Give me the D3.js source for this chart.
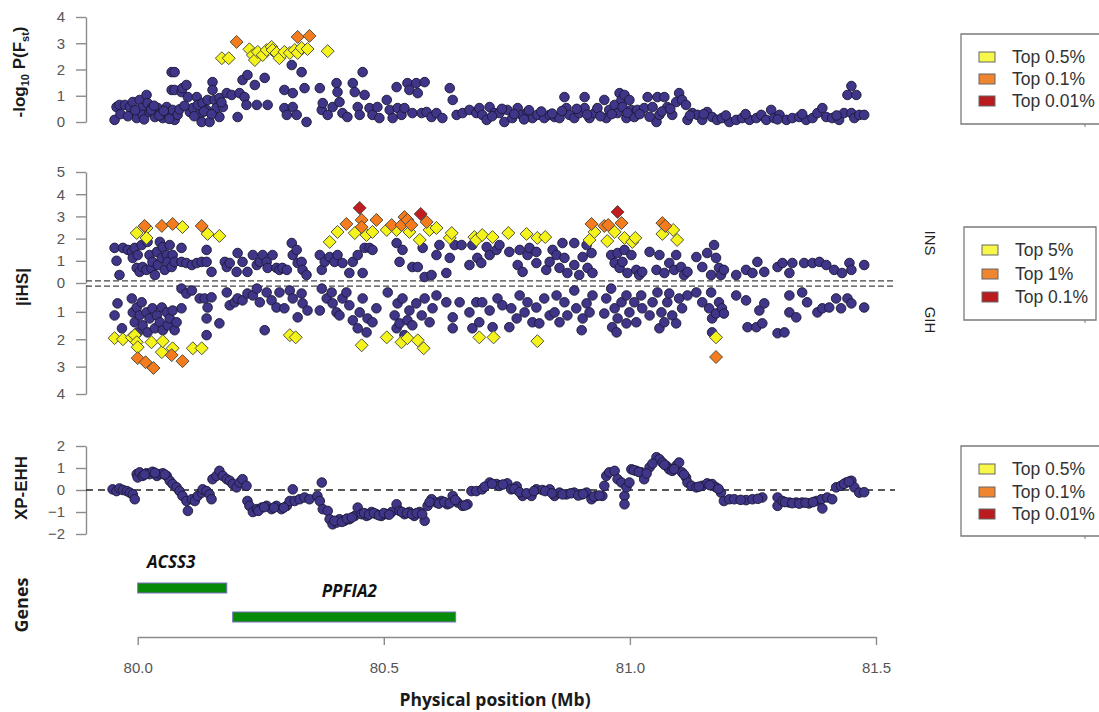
<!DOCTYPE html>
<html>
<head>
<meta charset="utf-8">
<script src="https://cdn.jsdelivr.net/npm/d3@7"></script>
<style>
  body { margin: 0; background: #fff; }
  svg { display: block; }
</style>
</head>
<body>
<script>
// ---------------- DATA ----------------
// Physical positions in Mb, values on each statistic's scale.
const xTicks = [80.0, 80.5, 81.0, 81.5];
const fstTicks = [0, 1, 2, 3, 4];
const ihsUpperTicks = [0, 1, 2, 3, 4, 5];
const ihsLowerTicks = [1, 2, 3, 4];
const xpTicks = [-2, -1, 0, 1, 2];

// -log10 P(Fst)
const fstCircles = [
[79.953,0.08],[79.957,0.57],[79.963,0.65],[79.974,0.65],[79.984,0.57],[79.990,0.76],[79.998,0.34],[79.998,0.15],[80.004,0.84],[80.008,0.53],[80.010,0.27],[80.018,1.03],[80.020,0.72],[80.024,0.38],[80.030,0.57],[80.035,0.19],[80.041,0.53],[80.049,0.34],[80.051,0.15],[80.059,0.57],[80.061,0.27],[80.069,1.90],[80.075,1.90],[80.069,1.22],[80.075,1.22],[80.071,0.46],[80.075,0.08],[80.081,0.27],[80.089,1.14],[80.091,1.29],[80.099,1.41],[80.102,0.95],[80.106,0.38],[80.112,0.53],[80.120,0.95],[80.122,0.65],[80.126,0.27],[80.130,0.0],[80.132,0.72],[80.140,0.46],[80.142,0.84],[80.146,0.0],[80.152,1.52],[80.152,1.22],[80.156,0.84],[80.160,0.53],[80.166,0.91],[80.166,0.19],[80.173,0.57],[80.181,1.10],[80.191,1.03],[80.203,0.19],[80.207,1.10],[80.213,1.60],[80.217,0.95],[80.223,1.79],[80.221,0.65],[80.238,1.41],[80.242,0.65],[80.258,1.68],[80.264,0.65],[80.298,1.22],[80.298,0.53],[80.303,0.27],[80.313,2.17],[80.315,1.10],[80.315,0.57],[80.323,0.27],[80.333,1.90],[80.339,1.29],[80.343,0.0],[80.370,1.29],[80.374,0.46],[80.376,0.72],[80.386,0.27],[80.396,0.57],[80.404,1.48],[80.406,1.14],[80.410,0.76],[80.416,0.34],[80.426,0.19],[80.437,1.48],[80.441,1.14],[80.447,0.57],[80.451,0.27],[80.457,1.90],[80.461,1.03],[80.471,0.53],[80.477,0.27],[80.487,0.57],[80.491,0.15],[80.506,0.84],[80.512,0.46],[80.518,0.15],[80.526,1.33],[80.528,0.53],[80.536,0.27],[80.542,0.53],[80.548,1.48],[80.552,1.22],[80.558,0.34],[80.566,1.48],[80.569,1.10],[80.577,0.34],[80.583,1.52],[80.587,0.38],[80.597,0.19],[80.607,0.34],[80.619,0.15],[80.634,1.29],[80.640,0.84],[80.648,0.27],[80.660,0.34],[80.674,0.46],[80.688,0.34],
[80.694,0.53],[80.700,0.27],[80.709,0.08],[80.715,0.57],[80.725,0.34],[80.735,0.34],[80.745,0.0],[80.751,0.46],[80.761,0.15],[80.772,0.53],[80.780,0.27],[80.792,0.38],[80.802,0.15],[80.812,0.27],[80.826,0.15],[80.837,0.27],[80.847,0.19],[80.857,0.15],[80.867,0.95],[80.871,0.53],[80.877,0.27],[80.887,0.15],[80.897,0.34],[80.908,0.95],[80.908,0.53],[80.918,0.15],[80.928,0.34],[80.934,0.53],[80.948,0.84],[80.952,0.15],[80.958,0.46],[80.969,0.65],[80.975,0.34],[80.979,1.10],[80.983,0.84],[80.985,0.57],[80.989,1.03],[80.993,0.15],[80.999,0.84],[81.003,0.46],[81.009,0.19],[81.015,0.46],[81.029,0.53],[81.036,0.95],[81.046,0.57],[81.054,0.0],[81.056,0.95],[81.060,0.27],[81.070,0.95],[81.076,0.57],[81.086,0.27],[81.094,0.76],[81.100,1.10],[81.106,0.84],[81.114,0.65],[81.117,0.08],[81.127,0.34],[81.137,0.27],[81.147,0.08],[81.157,0.38],[81.167,0.19],[81.177,0.08],[81.187,0.15],[81.202,0.0],[81.216,0.08],[81.228,0.15],[81.243,0.08],[81.257,0.15],[81.267,0.27],[81.277,0.08],[81.287,0.46],[81.293,0.15],[81.304,0.27],[81.318,0.08],[81.330,0.15],[81.344,0.19],[81.358,0.08],[81.371,0.15],[81.381,0.34],[81.391,0.53],[81.399,0.19],[81.411,0.15],[81.425,0.08],[81.435,0.34],[81.442,1.03],[81.450,1.37],[81.460,1.03],[81.450,0.34],[81.456,0.15],[81.466,0.27],[81.476,0.27],
[79.965,0.30],[79.980,0.22],[79.995,0.45],[80.013,0.10],[80.027,0.45],[80.033,0.62],[80.044,0.25],[80.053,0.42],[80.064,0.12],[80.085,0.48],[80.095,0.62],[80.115,0.22],[80.135,0.40],[80.150,0.30],[80.170,0.75],[80.720,0.22],[80.740,0.50],[80.765,0.30],[80.785,0.10],[80.795,0.45],[80.820,0.40],[80.842,0.32],[80.862,0.42],[80.892,0.50],[80.913,0.28],[80.940,0.22],[80.963,0.30],[80.995,0.35],[81.020,0.30],[81.040,0.20],[81.065,0.40],[81.082,0.50],[81.122,0.25],[81.150,0.30],[81.195,0.25],[81.235,0.30],[81.300,0.10],[81.350,0.30],[81.420,0.25]
];
const fstTop05 = [[80.171,2.43],[80.185,2.43],[80.227,2.77],[80.234,2.55],[80.238,2.36],[80.244,2.67],[80.254,2.55],[80.262,2.74],[80.272,2.86],[80.274,2.74],[80.282,2.63],[80.288,2.43],[80.298,2.67],[80.309,2.63],[80.319,2.74],[80.325,2.63],[80.333,2.82],[80.345,2.78],[80.386,2.70]];
const fstTop01 = [[80.201,3.05],[80.325,3.24],[80.349,3.28]];
const fstTop001 = [];

// |iHS| in INS (upper half)
const insCircles = [
[79.953,1.58],[79.957,1.0],[79.963,0.36],[79.970,1.58],[79.980,1.49],[79.988,1.40],[79.990,1.13],[79.994,1.58],[79.998,0.68],[80.000,1.26],[80.004,0.50],[80.008,1.71],[80.010,0.72],[80.018,0.59],[80.020,1.85],[80.024,1.26],[80.028,0.68],[80.030,0.95],[80.035,0.36],[80.039,1.40],[80.041,0.81],[80.045,1.85],[80.049,1.13],[80.051,1.62],[80.055,0.59],[80.059,1.26],[80.061,0.95],[80.065,1.71],[80.069,0.72],[80.071,1.26],[80.075,0.95],[80.089,1.58],[80.089,0.95],[80.099,0.90],[80.110,0.81],[80.120,0.90],[80.130,0.95],[80.140,1.49],[80.140,0.95],[80.150,0.50],[80.177,0.95],[80.181,0.72],[80.187,0.90],[80.201,0.50],[80.203,1.35],[80.213,0.95],[80.223,0.50],[80.234,1.26],[80.242,0.81],[80.248,0.95],[80.254,1.26],[80.262,0.95],[80.264,0.68],[80.274,1.26],[80.282,0.68],[80.288,0.59],[80.294,0.68],[80.303,0.59],[80.313,1.80],[80.315,1.26],[80.323,1.49],[80.325,0.90],[80.333,0.95],[80.335,0.59],[80.343,0.36],[80.370,1.26],[80.374,0.59],[80.380,0.95],[80.390,1.17],[80.400,0.95],[80.406,1.26],[80.416,0.90],[80.430,0.45],[80.437,0.95],[80.447,1.26],[80.457,0.45],[80.461,1.58],[80.471,1.58],[80.477,1.49],[80.526,1.80],[80.532,0.95],[80.538,1.49],[80.558,0.72],[80.569,0.72],[80.579,1.58],[80.583,0.27],[80.597,0.36],[80.607,1.26],[80.613,1.71],[80.627,0.45],[80.634,1.13],[80.644,1.71],[80.658,1.71],[80.674,0.81],[80.680,1.71],[80.690,1.13],
[80.698,0.90],[80.709,1.62],[80.715,1.26],[80.729,1.49],[80.735,1.71],[80.755,1.40],[80.772,0.81],[80.776,1.49],[80.782,0.50],[80.792,1.26],[80.796,1.58],[80.810,1.40],[80.810,0.90],[80.830,0.59],[80.837,0.95],[80.843,1.49],[80.851,1.26],[80.857,0.68],[80.863,1.80],[80.867,1.13],[80.873,0.45],[80.887,1.80],[80.887,0.81],[80.897,0.36],[80.904,1.17],[80.912,1.71],[80.914,0.68],[80.922,1.35],[80.924,0.45],[80.962,1.26],[80.969,0.90],[80.975,1.35],[80.979,0.68],[80.985,0.95],[80.989,1.49],[80.995,0.45],[81.003,1.26],[81.013,0.59],[81.019,0.36],[81.025,0.50],[81.040,1.40],[81.054,0.59],[81.060,1.26],[81.070,0.45],[81.080,0.90],[81.090,0.59],[81.094,1.26],[81.104,0.72],[81.110,0.36],[81.117,0.50],[81.135,1.17],[81.147,0.72],[81.157,1.35],[81.165,0.36],[81.171,1.71],[81.175,1.13],[81.181,0.68],[81.185,0.36],[81.191,0.59],[81.216,0.36],[81.236,0.59],[81.249,0.45],[81.259,0.95],[81.273,0.50],[81.300,0.72],[81.310,0.90],[81.324,0.45],[81.330,0.90],[81.354,0.90],[81.371,0.90],[81.385,0.95],[81.399,0.81],[81.415,0.59],[81.431,0.45],[81.446,0.90],[81.450,0.59],[81.476,0.81]
];
const insTop5 = [[79.998,2.25],[80.018,2.48],[80.018,2.03],[80.091,2.52],[80.142,2.21],[80.166,2.12],[80.390,1.85],[80.406,2.30],[80.441,2.25],[80.465,2.16],[80.477,2.30],[80.506,2.39],[80.526,2.39],[80.552,2.30],[80.573,1.94],[80.593,2.39],[80.607,2.48],[80.634,2.03],[80.638,2.25],[80.684,2.07],[80.688,1.94],[80.700,2.16],[80.721,2.07],[80.753,2.25],[80.790,2.21],[80.812,2.03],[80.828,2.07],[80.918,1.94],[80.928,2.30],[80.954,1.89],[80.969,2.30],[80.989,2.03],[81.005,1.85],[81.011,2.03],[81.066,2.21],[81.088,2.39],[81.096,1.94]];
const insTop1 = [[80.014,2.57],[80.049,2.57],[80.071,2.66],[80.130,2.57],[80.424,2.66],[80.455,2.84],[80.455,2.52],[80.485,2.84],[80.516,2.61],[80.536,2.61],[80.542,2.97],[80.548,2.84],[80.556,2.61],[80.587,2.75],[80.922,2.66],[80.948,2.57],[80.956,2.61],[80.983,2.70],[81.066,2.70],[81.072,2.57]];
const insTop01 = [[80.451,3.38],[80.575,3.11],[80.975,3.20]];

// |iHS| in GIH (lower half)
const gihCircles = [
[79.953,1.13],[79.959,0.69],[79.968,1.60],[79.988,0.51],[79.990,1.02],[79.994,1.38],[79.998,0.84],[80.000,1.75],[80.004,1.13],[80.008,0.65],[80.010,1.49],[80.018,1.02],[80.020,1.75],[80.024,1.24],[80.030,0.87],[80.035,1.60],[80.039,1.13],[80.045,1.38],[80.049,0.84],[80.051,1.67],[80.059,1.02],[80.061,1.49],[80.065,1.24],[80.071,0.95],[80.075,1.67],[80.079,1.38],[80.089,0.87],[80.089,0.15],[80.099,0.33],[80.110,0.22],[80.126,0.51],[80.136,0.51],[80.142,0.84],[80.140,1.24],[80.140,1.85],[80.150,0.47],[80.166,1.42],[80.181,0.29],[80.187,0.76],[80.197,0.65],[80.203,0.51],[80.213,0.58],[80.223,0.33],[80.234,0.40],[80.242,0.15],[80.248,0.65],[80.258,1.67],[80.262,0.29],[80.272,0.58],[80.282,0.84],[80.288,0.29],[80.298,0.87],[80.309,0.22],[80.315,0.51],[80.325,1.20],[80.333,0.33],[80.335,0.69],[80.345,0.95],[80.370,0.95],[80.374,0.15],[80.384,0.51],[80.394,0.29],[80.396,0.69],[80.404,1.02],[80.410,1.13],[80.416,0.51],[80.424,0.29],[80.430,0.76],[80.437,1.31],[80.447,1.60],[80.451,1.02],[80.457,0.51],[80.465,1.75],[80.467,1.24],[80.477,1.38],[80.485,0.87],[80.508,0.29],[80.522,1.13],[80.526,1.60],[80.528,0.69],[80.532,1.42],[80.538,0.51],[80.542,1.85],[80.548,1.31],[80.552,0.95],[80.558,1.49],[80.566,0.69],[80.577,1.13],[80.583,0.51],[80.593,1.38],[80.599,0.87],[80.607,0.40],[80.627,0.65],[80.640,1.20],[80.640,1.60],[80.654,0.65],[80.674,1.02],[80.680,1.60],[80.688,0.65],
[80.694,1.38],[80.700,0.65],[80.715,0.95],[80.721,1.56],[80.731,0.51],[80.741,0.76],[80.755,1.56],[80.759,0.87],[80.770,1.24],[80.776,0.40],[80.786,1.02],[80.792,0.65],[80.802,1.38],[80.810,0.84],[80.816,1.42],[80.826,0.51],[80.837,1.13],[80.847,1.02],[80.851,0.40],[80.857,1.38],[80.867,0.65],[80.873,1.13],[80.887,0.22],[80.891,0.87],[80.902,1.67],[80.904,1.24],[80.912,0.69],[80.918,1.02],[80.924,0.40],[80.948,1.06],[80.952,0.51],[80.962,0.15],[80.964,1.56],[80.969,0.87],[80.973,1.75],[80.975,1.24],[80.983,0.65],[80.993,1.42],[80.993,0.40],[80.999,1.02],[81.009,0.65],[81.013,1.38],[81.023,0.40],[81.025,0.87],[81.040,1.13],[81.046,0.65],[81.056,0.29],[81.060,1.60],[81.064,1.02],[81.070,1.38],[81.076,0.65],[81.080,0.33],[81.086,1.13],[81.094,1.42],[81.100,0.51],[81.106,0.87],[81.117,0.40],[81.135,0.29],[81.147,0.65],[81.161,0.87],[81.165,0.29],[81.167,1.24],[81.167,1.75],[81.175,1.06],[81.181,0.65],[81.187,0.87],[81.191,1.06],[81.216,0.40],[81.236,0.58],[81.239,1.56],[81.257,1.56],[81.263,0.95],[81.269,1.42],[81.273,0.69],[81.300,1.78],[81.314,1.75],[81.324,0.40],[81.324,1.02],[81.338,1.20],[81.350,0.29],[81.360,0.65],[81.381,1.02],[81.391,0.87],[81.405,0.84],[81.419,0.51],[81.429,0.87],[81.442,0.51],[81.450,0.69],[81.476,0.84]
];
const gihTop5 = [[79.953,1.96],[79.970,2.0],[79.988,1.93],[79.994,1.85],[79.998,2.11],[80.000,2.29],[80.028,2.11],[80.049,2.47],[80.051,2.07],[80.071,2.33],[80.112,2.33],[80.130,2.33],[80.309,1.85],[80.321,1.93],[80.455,2.22],[80.506,1.93],[80.536,2.11],[80.548,1.96],[80.569,2.04],[80.581,2.33],[80.694,1.93],[80.723,1.93],[80.812,2.07],[81.175,1.93]];
const gihTop1 = [[80.000,2.69],[80.016,2.84],[80.032,3.05],[80.069,2.58],[80.091,2.80],[81.175,2.65]];
const gihTop01 = [];

// XP-EHH
const xpehh = [
[79.949,0.03],[79.957,-0.05],[79.963,0.07],[79.970,0.0],[79.978,-0.05],[79.984,-0.12],[79.990,-0.2],[79.994,-0.42],[79.998,0.72],[80.000,0.57],[80.004,0.80],[80.010,0.64],[80.018,0.76],[80.024,0.72],[80.030,0.83],[80.039,0.64],[80.045,0.72],[80.051,0.76],[80.059,0.64],[80.065,0.42],[80.071,0.27],[80.079,0.12],[80.085,-0.05],[80.091,-0.27],[80.099,-0.5],[80.102,-0.95],[80.110,-0.42],[80.116,-0.5],[80.122,-0.27],[80.130,-0.12],[80.132,0.03],[80.140,-0.05],[80.146,-0.2],[80.150,-0.42],[80.152,0.49],[80.160,0.64],[80.166,0.87],[80.173,0.64],[80.181,0.49],[80.187,0.42],[80.193,0.27],[80.201,0.12],[80.207,0.34],[80.213,0.49],[80.221,0.19],[80.223,-0.5],[80.227,-0.72],[80.234,-1.0],[80.242,-0.87],[80.252,-0.8],[80.262,-0.72],[80.272,-0.87],[80.282,-0.72],[80.292,-0.87],[80.303,-0.72],[80.309,-0.5],[80.315,0.03],[80.319,-0.5],[80.329,-0.42],[80.339,-0.34],[80.349,-0.42],[80.365,-0.27],[80.370,-0.5],[80.374,0.34],[80.376,-0.87],[80.386,-0.95],[80.390,-1.33],[80.396,-1.56],[80.404,-1.48],[80.410,-1.33],[80.420,-1.4],[80.430,-1.33],[80.441,-1.18],[80.447,-0.8],[80.455,-1.1],[80.465,-1.18],[80.475,-1.0],[80.485,-1.1],[80.495,-1.18],[80.506,-1.1],[80.516,-1.0],[80.526,-0.65],[80.532,-0.95],[80.542,-1.1],[80.552,-1.0],[80.562,-1.18],[80.573,-1.0],[80.583,-1.4],[80.589,-0.72],[80.597,-0.42],[80.607,-0.57],[80.617,-0.5],[80.629,-0.65],[80.640,-0.27],[80.650,-0.57],[80.660,-0.72],[80.670,-0.65],[80.678,-0.05],[80.688,-0.05],
[80.700,0.03],[80.715,0.34],[80.729,0.27],[80.735,0.19],[80.751,0.3],[80.759,0.03],[80.770,0.16],[80.782,-0.27],[80.800,-0.27],[80.810,0.03],[80.822,0.0],[80.837,0.03],[80.847,-0.27],[80.857,-0.12],[80.871,-0.2],[80.887,-0.12],[80.902,-0.2],[80.912,-0.12],[80.922,-0.42],[80.932,-0.27],[80.944,-0.27],[80.948,0.19],[80.952,0.64],[80.958,0.8],[80.969,0.87],[80.975,0.49],[80.983,0.34],[80.989,-0.27],[80.989,-0.65],[80.993,0.12],[80.999,0.34],[81.003,0.94],[81.013,0.87],[81.023,0.8],[81.029,0.49],[81.040,1.03],[81.054,1.49],[81.060,1.4],[81.066,1.25],[81.074,1.1],[81.080,0.94],[81.086,0.87],[81.094,1.1],[81.100,1.25],[81.106,0.8],[81.114,0.57],[81.117,0.34],[81.125,0.19],[81.135,0.12],[81.147,0.19],[81.157,0.3],[81.167,0.27],[81.175,0.12],[81.185,-0.12],[81.191,-0.5],[81.202,-0.42],[81.212,-0.42],[81.236,-0.46],[81.249,-0.42],[81.269,-0.34],[81.300,-0.34],[81.300,-0.72],[81.310,-0.5],[81.324,-0.57],[81.338,-0.57],[81.350,-0.57],[81.364,-0.61],[81.379,-0.5],[81.389,-0.42],[81.391,-0.84],[81.401,-0.34],[81.411,-0.42],[81.419,0.12],[81.429,0.19],[81.440,0.34],[81.450,0.42],[81.456,0.12],[81.466,-0.12],[81.476,-0.1],
[80.014,0.70],[80.035,0.78],[80.055,0.70],[80.245,-0.95],[80.257,-0.78],[80.277,-0.80],[80.297,-0.80],[80.400,-1.40],[80.415,-1.45],[80.425,-1.30],[80.435,-1.25],[80.460,-1.05],[80.470,-1.12],[80.480,-1.05],[80.490,-1.15],[80.500,-1.05],[80.511,-1.12],[80.537,-1.0],[80.547,-1.05],[80.557,-1.1],[80.567,-1.05],[80.578,-1.1],[80.593,-0.55],[80.612,-0.62],[80.623,-0.55],[80.634,-0.6],[80.645,-0.45],[80.665,-0.70],[80.705,0.15],[80.720,0.28],[80.742,0.25],[80.765,0.05],[80.776,-0.10],[80.790,-0.15],[80.805,-0.05],[80.828,-0.05],[80.842,-0.15],[80.863,-0.20],[80.880,-0.15],[80.895,-0.25],[80.905,-0.18],[80.927,-0.30],[80.938,-0.25],[81.008,0.9],[81.018,0.82],[81.034,0.75],[81.046,1.2],[81.070,1.15],[81.090,0.95],[81.110,0.70],[81.140,0.15],[81.162,0.22],[81.180,0.05],[81.225,-0.45],[81.260,-0.40],[81.315,-0.55],[81.330,-0.60],[81.344,-0.62],[81.357,-0.58],[81.372,-0.55],[81.435,0.28],[81.445,0.38]
];

// Genes
const geneNames = ["ACSS3", "PPFIA2"];
const geneStart = [80.000, 80.193];
const geneEnd = [80.181, 80.646];
const geneRow = [0, 1];
const geneLabelPos = [80.068, 80.430];

// Legends
const legendFstLabels = ["Top 0.5%", "Top 0.1%", "Top 0.01%"];
const legendIhsLabels = ["Top 5%", "Top 1%", "Top 0.1%"];
const legendXpLabels = ["Top 0.5%", "Top 0.1%", "Top 0.01%"];
const popLabels = ["INS", "GIH"];

// ---------------- STYLE ----------------
const C_CIRCLE = "#3f3689", C_CIRCLE_STROKE = "#1b1833";
const C_YELLOW = "#f4f41c", C_ORANGE = "#f47c1e", C_RED = "#c11d20";
const legendColors = ["#f7f74a", "#f08530", "#b91b1f"];
const AXIS_COL = "#8c8c8c", TICK_TEXT = "#555";

const W = 1099, H = 712;
const svg = d3.select("body").append("svg").attr("width", W).attr("height", H)
  .style("font-family", "'Liberation Sans', Arial, sans-serif");

const x = d3.scaleLinear().domain([80, 81.5]).range([137.7, 876]);
const yF = d3.scaleLinear().domain([0, 4]).range([122, 17]);
const yU = d3.scaleLinear().domain([0, 5]).range([283, 172]);
const yL = d3.scaleLinear().domain([0, 4]).range([284.5, 394]);
const yX = d3.scaleLinear().domain([-2, 2]).range([534, 446]);
const AXIS_X = 86;

function styleAxis(g) {
  g.selectAll("path.domain").attr("stroke", AXIS_COL).attr("stroke-width", 1.4);
  g.selectAll(".tick line").attr("stroke", AXIS_COL).attr("stroke-width", 1.4);
  g.selectAll(".tick text").attr("fill", TICK_TEXT).style("font-size", "15px")
    .style("font-family", "'Liberation Sans', Arial, sans-serif");
}
function leftAxis(scale, ticks, fmt) {
  const g = svg.append("g").attr("transform", `translate(${AXIS_X},0)`)
    .call(d3.axisLeft(scale).tickValues(ticks).tickSize(10).tickSizeOuter(0).tickPadding(11).tickFormat(fmt));
  styleAxis(g);
  return g;
}
leftAxis(yF, fstTicks, d3.format("d"));
leftAxis(yU, ihsUpperTicks, d3.format("d"));
leftAxis(yL, ihsLowerTicks, d3.format("d"));
leftAxis(yX, xpTicks, d => d < 0 ? "\u2212" + Math.abs(d) : String(d));

// x axis
const gx = svg.append("g").attr("transform", "translate(0,637)")
  .call(d3.axisBottom(x).tickValues(xTicks).tickSize(8).tickSizeOuter(0).tickPadding(17).tickFormat(d3.format(".1f")));
styleAxis(gx);

// Reference lines
svg.append("line").attr("x1", AXIS_X).attr("x2", 895).attr("y1", yU(0.1)).attr("y2", yU(0.1))
  .attr("stroke", "#444").attr("stroke-width", 1.3).attr("stroke-dasharray", "6,3");
svg.append("line").attr("x1", AXIS_X).attr("x2", 895).attr("y1", yL(0.06)).attr("y2", yL(0.06))
  .attr("stroke", "#444").attr("stroke-width", 1.3).attr("stroke-dasharray", "6,3");
svg.append("line").attr("x1", AXIS_X).attr("x2", 895).attr("y1", yX(0)).attr("y2", yX(0))
  .attr("stroke", "#222").attr("stroke-width", 1.5).attr("stroke-dasharray", "7,5");

// Marks
function circles(data, yScale) {
  svg.append("g").selectAll("circle").data(data).join("circle")
    .attr("cx", d => x(d[0])).attr("cy", d => yScale(d[1])).attr("r", 4.8)
    .attr("fill", C_CIRCLE).attr("stroke", C_CIRCLE_STROKE).attr("stroke-width", 0.9);
}
const diamondPath = d3.symbol(d3.symbolSquare, 84)();
function diamonds(data, yScale, color) {
  svg.append("g").selectAll("path").data(data).join("path")
    .attr("d", diamondPath)
    .attr("transform", d => `translate(${x(d[0])},${yScale(d[1])}) rotate(45)`)
    .attr("fill", color).attr("stroke", "#4a4a3a").attr("stroke-width", 0.9);
}
circles(fstCircles, yF);
diamonds(fstTop05, yF, C_YELLOW);
diamonds(fstTop01, yF, C_ORANGE);
diamonds(fstTop001, yF, C_RED);

circles(insCircles, yU);
circles(gihCircles, yL);
diamonds(insTop5, yU, C_YELLOW);
diamonds(gihTop5, yL, C_YELLOW);
diamonds(insTop1, yU, C_ORANGE);
diamonds(gihTop1, yL, C_ORANGE);
diamonds(insTop01, yU, C_RED);
diamonds(gihTop01, yL, C_RED);

circles(xpehh, yX);

// Genes
const yGene = d3.scalePoint().domain([0, 1]).range([588, 617]);
svg.append("g").selectAll("rect").data(geneNames).join("rect")
  .attr("x", (d, i) => x(geneStart[i])).attr("width", (d, i) => x(geneEnd[i]) - x(geneStart[i]))
  .attr("y", (d, i) => yGene(geneRow[i]) - 5).attr("height", 10)
  .attr("fill", "#078a07").attr("stroke", "#7c6fc0").attr("stroke-width", 1);
svg.append("g").selectAll("text").data(geneNames).join("text")
  .attr("x", (d, i) => x(geneLabelPos[i])).attr("y", (d, i) => yGene(geneRow[i]) - 20)
  .attr("text-anchor", "middle")
  .style("font-family", "'Open Sans', sans-serif").style("font-weight", 700).style("font-style", "italic")
  .style("font-size", "17px").attr("fill", "#111").text(d => d);

// Axis titles
function rotTitle(tx, ty, fam, size) {
  return svg.append("text").attr("transform", `translate(${tx},${ty}) rotate(-90)`)
    .attr("text-anchor", "middle").style("font-family", fam).style("font-weight", 700)
    .style("font-size", size + "px").attr("fill", "#1a1a1a");
}
const ft = rotTitle(25, 72, "'Liberation Sans', Arial, sans-serif", 17);
ft.append("tspan").text("-log");
ft.append("tspan").attr("dy", 4).style("font-size", "11px").text("10");
ft.append("tspan").attr("dy", -4).text(" P(F");
ft.append("tspan").attr("dy", 4).style("font-size", "11px").text("st");
ft.append("tspan").attr("dy", -4).text(")");
rotTitle(28, 287, "'Liberation Sans', Arial, sans-serif", 17).text("|iHS|");
rotTitle(27, 488, "'Liberation Sans', Arial, sans-serif", 17).text("XP-EHH");
rotTitle(28, 605, "'Open Sans', sans-serif", 18).text("Genes");

svg.append("text").attr("x", 495).attr("y", 706).attr("text-anchor", "middle")
  .style("font-family", "'Open Sans', sans-serif").style("font-weight", 700).style("font-size", "17.5px")
  .attr("fill", "#1a1a1a").text("Physical position (Mb)");

// Population labels (rotated)
const popY = [243, 320];
svg.append("g").selectAll("text").data(popLabels).join("text")
  .attr("transform", (d, i) => `translate(925,${popY[i]}) rotate(90)`)
  .attr("text-anchor", "middle").style("font-size", "15px").attr("fill", "#222").text(d => d);

// Legends
function legend(left, top, bottom, right, labels, rows) {
  const g = svg.append("g");
  g.append("path")
    .attr("d", right ? `M${left},${top}H${right}V${bottom}H${left}Z` : `M${W + 5},${top}H${left}V${bottom}H${W + 5}`)
    .attr("fill", "none").attr("stroke", "#7a7a7a").attr("stroke-width", 1.3);
  g.append("line").attr("x1", 1085).attr("x2", 1085).attr("y1", bottom).attr("y2", bottom + 3)
    .attr("stroke", "#7a7a7a");
  g.selectAll("rect").data(labels).join("rect")
    .attr("x", left + 18).attr("y", (d, i) => rows[i] - 5).attr("width", 16).attr("height", 10)
    .attr("fill", (d, i) => legendColors[i]).attr("stroke", "#666").attr("stroke-width", 1);
  g.selectAll("text").data(labels).join("text")
    .attr("x", left + 51).attr("y", (d, i) => rows[i]).attr("dy", "0.36em")
    .style("font-size", "17.5px").attr("fill", "#333").text(d => d);
}
legend(961, 34, 124, null, legendFstLabels, [57, 79, 101]);
legend(964, 227, 320, 1096, legendIhsLabels, [250, 274, 297]);
legend(961, 446, 536, null, legendXpLabels, [469, 492, 514]);
</script>
</body>
</html>
